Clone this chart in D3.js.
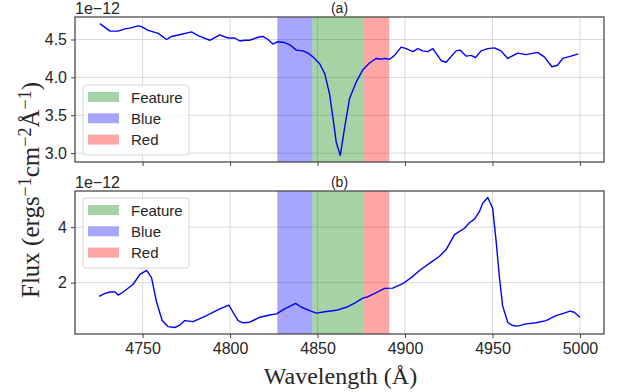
<!DOCTYPE html>
<html>
<head>
<meta charset="utf-8">
<script src="https://cdn.jsdelivr.net/npm/d3@7"></script>
<style>
  html, body { margin: 0; padding: 0; background: #fff; }
  svg { display: block; }
  .tick text { font-family: "Liberation Sans", Arial, sans-serif; }
</style>
</head>
<body>
<svg id="chart" width="625" height="392"></svg>
<script>
// Spectrum (a): wavelength (Å) and flux (×1e-12)
const waveA = [4725.6, 4731.3, 4736.0, 4739.9, 4742.7, 4747.5, 4749.4, 4753.2, 4758.9, 4763.7,
  4766.6, 4772.3, 4778.0, 4781.7, 4788.4, 4794.1, 4798.9, 4802.7, 4805.5, 4808.4,
  4811.2, 4816.0, 4818.8, 4821.7, 4824.5, 4827.0, 4831.2, 4834.1, 4837.9, 4841.7,
  4844.5, 4847.4, 4851.2, 4854.1, 4856.9, 4859.8, 4860.7, 4863.0, 4865.5, 4868.3,
  4872.1, 4875.9, 4879.7, 4883.6, 4886.4, 4888.3, 4891.2, 4894.0, 4897.8, 4900.7,
  4904.5, 4907.3, 4910.2, 4913.0, 4915.9, 4920.7, 4923.5, 4929.2, 4931.5, 4934.9,
  4937.8, 4940.2, 4943.5, 4947.3, 4951.1, 4954.9, 4958.7, 4964.4, 4969.2, 4975.8,
  4979.6, 4984.0, 4987.2, 4990.1, 4994.9, 4999.0];
const fluxA = [4.71, 4.61, 4.61, 4.64, 4.65, 4.68, 4.67, 4.62, 4.58, 4.50,
  4.54, 4.57, 4.60, 4.55, 4.49, 4.56, 4.52, 4.52, 4.48, 4.49,
  4.49, 4.53, 4.54, 4.50, 4.44, 4.47, 4.46, 4.43, 4.36, 4.35,
  4.32, 4.27, 4.18, 4.05, 3.78, 3.30, 3.14, 2.97, 3.34, 3.72,
  3.94, 4.10, 4.19, 4.25, 4.24, 4.25, 4.24, 4.29, 4.40, 4.38,
  4.34, 4.38, 4.35, 4.34, 4.38, 4.22, 4.20, 4.35, 4.36, 4.28,
  4.29, 4.26, 4.35, 4.38, 4.39, 4.35, 4.25, 4.32, 4.30, 4.33,
  4.27, 4.14, 4.16, 4.25, 4.28, 4.31];

// Spectrum (b): wavelength (Å) and flux (×1e-12)
const waveB = [4725.1, 4728.5, 4731.3, 4734.2, 4736.1, 4738.9, 4744.6, 4748.5, 4752.3, 4755.1,
  4758.0, 4761.2, 4764.6, 4768.4, 4771.3, 4774.1, 4778.9, 4786.5, 4794.1, 4799.3,
  4801.7, 4804.6, 4807.4, 4811.2, 4817.0, 4822.7, 4826.5, 4831.2, 4837.5, 4840.8,
  4845.5, 4849.3, 4854.1, 4860.7, 4866.4, 4871.2, 4875.9, 4878.8, 4883.6, 4888.3,
  4893.0, 4898.7, 4903.5, 4909.2, 4915.0, 4919.7, 4923.5, 4928.3, 4934.0, 4936.8,
  4939.7, 4942.5, 4944.4, 4947.3, 4950.1, 4952.0, 4953.9, 4955.8, 4958.7, 4961.5,
  4964.4, 4969.2, 4974.9, 4980.6, 4986.3, 4991.0, 4994.3, 4996.7, 5000.0];
const fluxB = [1.50, 1.61, 1.66, 1.66, 1.55, 1.66, 1.94, 2.30, 2.44, 2.18,
  1.29, 0.63, 0.41, 0.38, 0.47, 0.63, 0.59, 0.81, 1.05, 1.19,
  0.93, 0.63, 0.55, 0.57, 0.75, 0.83, 0.87, 1.05, 1.25, 1.11,
  0.99, 0.90, 0.95, 1.00, 1.11, 1.26, 1.44, 1.49, 1.64, 1.79,
  1.80, 1.96, 2.18, 2.48, 2.74, 2.95, 3.19, 3.73, 3.96, 4.16,
  4.29, 4.56, 4.86, 5.07, 4.68, 3.55, 2.24, 1.16, 0.57, 0.45,
  0.43, 0.51, 0.55, 0.63, 0.81, 0.90, 0.97, 0.93, 0.75];

// Wavelength windows (Å)
const regionNames = ["Feature", "Blue", "Red"];
const regionStart = [4847, 4827, 4876.5];
const regionEnd = [4876.5, 4847, 4891];

// Axis ticks
const xTicks = [4750, 4800, 4850, 4900, 4950, 5000];
const yTicksA = [3.0, 3.5, 4.0, 4.5];
const yTicksB = [2, 4];

// ---- styling ----
const regionFill = { Feature: "rgb(0,128,0)", Blue: "rgb(0,0,255)", Red: "rgb(255,0,0)" };
const regionAlpha = 0.35;
const left = 75, right = 604;
const panels = [
  { wave: waveA, flux: fluxA, top: 17, bottom: 162, ticks: yTicksA, fmt: d3.format(".1f"), title: "(a)", labels: false },
  { wave: waveB, flux: fluxB, top: 191, bottom: 334, ticks: yTicksB, fmt: d3.format("d"), title: "(b)", labels: true }
];

const svg = d3.select("#chart");
const sans = '"Liberation Sans", Arial, sans-serif';
const serif = '"Liberation Serif", "Times New Roman", serif';

// matplotlib-style 5% margins
function padded(ext) {
  const p = (ext[1] - ext[0]) * 0.05;
  return [ext[0] - p, ext[1] + p];
}
const xDom = padded([d3.min(waveA.concat(waveB)), d3.max(waveA.concat(waveB))]);
const x = d3.scaleLinear().domain(xDom).range([left, right]);

panels.forEach((p, pi) => {
  const y = d3.scaleLinear().domain(padded(d3.extent(p.flux))).range([p.bottom, p.top]);
  const g = svg.append("g");
  const clipId = "clip" + pi;
  svg.append("clipPath").attr("id", clipId)
    .append("rect").attr("x", left).attr("y", p.top).attr("width", right - left).attr("height", p.bottom - p.top);

  // grid
  const grid = g.append("g").attr("stroke", "#d9d9d9").attr("stroke-width", 1);
  grid.selectAll("line.gx").data(xTicks).join("line")
    .attr("x1", d => x(d)).attr("x2", d => x(d)).attr("y1", p.top).attr("y2", p.bottom);
  grid.selectAll("line.gy").data(p.ticks).join("line")
    .attr("x1", left).attr("x2", right).attr("y1", d => y(d)).attr("y2", d => y(d));

  // shaded windows
  g.append("g").attr("clip-path", `url(#${clipId})`)
    .selectAll("rect").data(regionNames).join("rect")
    .attr("x", (d, i) => x(regionStart[i]))
    .attr("width", (d, i) => x(regionEnd[i]) - x(regionStart[i]))
    .attr("y", p.top).attr("height", p.bottom - p.top)
    .attr("fill", d => regionFill[d]).attr("fill-opacity", regionAlpha);

  // spectrum
  const line = d3.line().x((d, i) => x(p.wave[i])).y(d => y(d));
  g.append("path").datum(p.flux)
    .attr("clip-path", `url(#${clipId})`)
    .attr("d", line).attr("fill", "none").attr("stroke", "#0000ff").attr("stroke-width", 1.4)
    .attr("stroke-linejoin", "round");

  // axes
  const xa = d3.axisBottom(x).tickValues(xTicks).tickSize(4).tickPadding(5)
    .tickFormat(p.labels ? d3.format("d") : () => "");
  const gx = g.append("g").attr("transform", `translate(0,${p.bottom})`).call(xa);
  const ya = d3.axisLeft(y).tickValues(p.ticks).tickSize(4).tickPadding(4).tickFormat(p.fmt);
  const gy = g.append("g").attr("transform", `translate(${left},0)`).call(ya);
  [gx, gy].forEach(a => {
    a.select(".domain").remove();
    a.selectAll(".tick line").attr("stroke", "#444").attr("stroke-width", 1);
    a.selectAll(".tick text").attr("fill", "#262626").attr("font-size", 16).attr("font-family", sans);
  });

  // frame
  g.append("rect").attr("x", left).attr("y", p.top).attr("width", right - left).attr("height", p.bottom - p.top)
    .attr("fill", "none").attr("stroke", "#444").attr("stroke-width", 1.25);

  // offset and title
  g.append("text").attr("x", left).attr("y", p.top - 3).attr("font-family", sans).attr("font-size", 16)
    .attr("fill", "#262626").text("1e\u221212");
  g.append("text").attr("x", (left + right) / 2).attr("y", p.top - 4).attr("text-anchor", "middle")
    .attr("font-family", sans).attr("font-size", 14).attr("fill", "#262626").text(p.title);

  // legend
  const lgTop = pi === 0 ? 85 : 198;
  const lg = g.append("g").attr("transform", `translate(83,${lgTop})`);
  lg.append("rect").attr("width", 106).attr("height", 70).attr("rx", 3)
    .attr("fill", "#fff").attr("fill-opacity", 0.8).attr("stroke", "#d5d5d5").attr("stroke-width", 1);
  regionNames.forEach((n, i) => {
    const cy = 12 + i * 21.3;
    lg.append("rect").attr("x", 5).attr("y", cy - 5).attr("width", 31).attr("height", 10)
      .attr("fill", regionFill[n]).attr("fill-opacity", regionAlpha);
    lg.append("text").attr("x", 48).attr("y", cy + 5.5).attr("font-family", sans).attr("font-size", 15)
      .attr("fill", "#262626").text(n);
  });
});

// x label
svg.append("text").attr("x", (left + right) / 2 + 1).attr("y", 384).attr("text-anchor", "middle")
  .attr("font-family", serif).attr("font-size", 24).attr("fill", "#262626").text("Wavelength (\u00C5)");

// y label with superscripts
const yl = svg.append("text").attr("transform", "translate(39,190) rotate(-90)")
  .attr("text-anchor", "middle").attr("font-family", serif).attr("font-size", 25).attr("fill", "#262626");
const parts = [["Flux (ergs", 0], ["\u22121", 1], ["cm", 0], ["\u22122", 1], ["\u00C5", 0], ["\u22121", 1], [")", 0]];
parts.forEach(([t, sup]) => {
  yl.append("tspan").attr("baseline-shift", sup ? "45%" : "0%")
    .attr("font-size", sup ? 18 : 25).text(t);
});
</script>
</body>
</html>
